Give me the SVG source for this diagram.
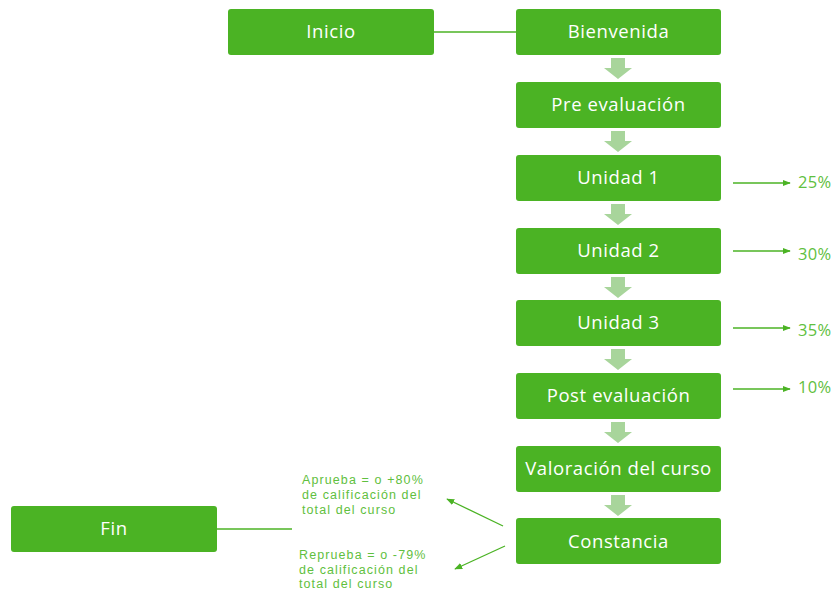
<svg xmlns="http://www.w3.org/2000/svg" width="837" height="592" viewBox="0 0 837 592">
<style>
.box{fill:#4bb324;}
.lbl{font-family:"Open Sans","Liberation Sans",sans-serif;font-size:18.5px;letter-spacing:0.6px;fill:#ffffff;text-anchor:middle;}
.pct{font-family:"Open Sans","Liberation Sans",sans-serif;font-size:16.5px;letter-spacing:0.3px;fill:#5fc040;}
.note{font-family:"Liberation Sans",Arial,sans-serif;font-size:12.5px;letter-spacing:1.1px;fill:#5fc040;}
.ln{stroke:#4bb324;stroke-width:1.3;fill:none;}
.blk{fill:#a8d59b;}
</style>
<defs>
<marker id="ah" viewBox="0 0 10 10" refX="9" refY="5" markerWidth="8" markerHeight="8" markerUnits="userSpaceOnUse" orient="auto"><path d="M0,1 L10,5 L0,9 z" fill="#4bb324"/></marker>
</defs>
<rect width="837" height="592" fill="#ffffff"/>
<g id="connectors">
<line class="ln" x1="434" y1="32" x2="516" y2="32"/>
<line class="ln" x1="217" y1="529" x2="292" y2="529"/>
<path class="blk" d="M611,58 h14 v10 h7 l-14,11 l-14,-11 h7 z"/>
<path class="blk" d="M611,131 h14 v10 h7 l-14,11 l-14,-11 h7 z"/>
<path class="blk" d="M611,204 h14 v10 h7 l-14,11 l-14,-11 h7 z"/>
<path class="blk" d="M611,277 h14 v10 h7 l-14,11 l-14,-11 h7 z"/>
<path class="blk" d="M611,349 h14 v10 h7 l-14,11 l-14,-11 h7 z"/>
<path class="blk" d="M611,422 h14 v10 h7 l-14,11 l-14,-11 h7 z"/>
<path class="blk" d="M611,495 h14 v10 h7 l-14,11 l-14,-11 h7 z"/>
<line class="ln" x1="733" y1="183" x2="790" y2="183" marker-end="url(#ah)"/>
<line class="ln" x1="733" y1="251" x2="790" y2="251" marker-end="url(#ah)"/>
<line class="ln" x1="733" y1="328" x2="790" y2="328" marker-end="url(#ah)"/>
<line class="ln" x1="733" y1="389" x2="790" y2="389" marker-end="url(#ah)"/>
<line class="ln" x1="503" y1="526" x2="447" y2="499" marker-end="url(#ah)"/>
<line class="ln" x1="505" y1="546" x2="455" y2="569" marker-end="url(#ah)"/>
</g>
<g id="inicio"><rect class="box" x="228" y="9" width="206" height="46" rx="3"/><text class="lbl" x="331" y="38">Inicio</text></g>
<g id="bienvenida"><rect class="box" x="516" y="9" width="205" height="46" rx="3"/><text class="lbl" x="618.5" y="38">Bienvenida</text></g>
<g id="pre"><rect class="box" x="516" y="82" width="205" height="46" rx="3"/><text class="lbl" x="618.5" y="111">Pre evaluación</text></g>
<g id="u1"><rect class="box" x="516" y="155" width="205" height="46" rx="3"/><text class="lbl" x="618.5" y="184">Unidad 1</text></g>
<g id="u2"><rect class="box" x="516" y="228" width="205" height="46" rx="3"/><text class="lbl" x="618.5" y="257">Unidad 2</text></g>
<g id="u3"><rect class="box" x="516" y="300" width="205" height="46" rx="3"/><text class="lbl" x="618.5" y="329">Unidad 3</text></g>
<g id="post"><rect class="box" x="516" y="373" width="205" height="46" rx="3"/><text class="lbl" x="618.5" y="402">Post evaluación</text></g>
<g id="valoracion"><rect class="box" x="516" y="446" width="205" height="46" rx="3"/><text class="lbl" x="618.5" y="475">Valoración del curso</text></g>
<g id="constancia"><rect class="box" x="516" y="518" width="205" height="46" rx="3"/><text class="lbl" x="618.5" y="548">Constancia</text></g>
<g id="fin"><rect class="box" x="11" y="506" width="206" height="46" rx="3"/><text class="lbl" x="114" y="535">Fin</text></g>
<g id="pct">
<text class="pct" x="798" y="188">25%</text>
<text class="pct" x="798" y="260">30%</text>
<text class="pct" x="798" y="336">35%</text>
<text class="pct" x="798" y="393">10%</text>
</g>
<g id="notes">
<text class="note" x="302" y="484">Aprueba = o +80%</text>
<text class="note" x="302" y="499">de calificación del</text>
<text class="note" x="302" y="514">total del curso</text>
<text class="note" x="299" y="559">Reprueba = o -79%</text>
<text class="note" x="299" y="573.5">de calificación del</text>
<text class="note" x="299" y="588">total del curso</text>
</g>
</svg>
